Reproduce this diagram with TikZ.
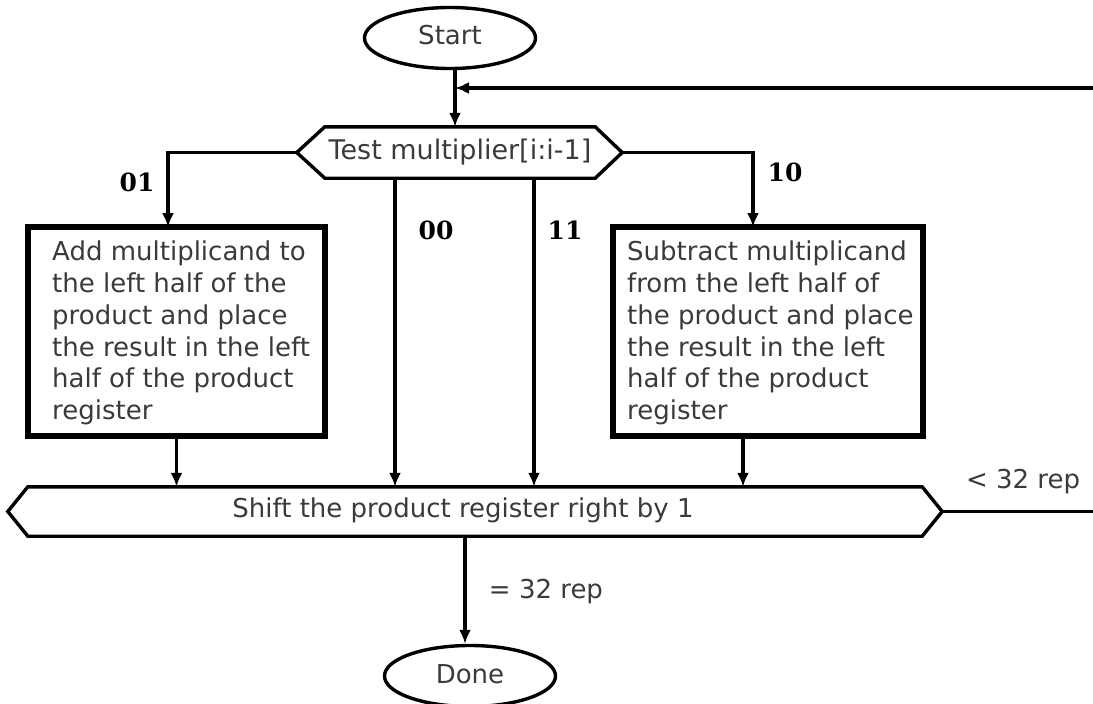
\documentclass[tikz,border=0pt]{standalone}
\usepackage{fontspec}
\setmainfont{DejaVu Sans}
\newfontfamily\labfont{DejaVu Serif}
\usetikzlibrary{arrows.meta,shapes.geometric}
\definecolor{txt}{RGB}{58,58,58}
\begin{document}
\begin{tikzpicture}[x=1pt,y=-1pt,
  conn/.style={line width=3.4pt,line join=miter},
  arr/.style={conn,-{Latex[length=14pt,width=12pt]}},
  thickbox/.style={draw,line width=6pt,minimum width=297pt,minimum height=209pt,inner sep=0pt},
  oval/.style={draw,ellipse,line width=3.4pt,minimum width=171pt,minimum height=61pt,inner sep=0pt,text=txt,font=\fontsize{26}{30}\selectfont},
  body/.style={text=txt,font=\fontsize{26}{31.7}\selectfont,align=left,inner sep=0pt,anchor=north west},
  bits/.style={font=\labfont\bfseries\fontsize{25}{30}\selectfont,inner sep=0pt},
  note/.style={text=txt,font=\fontsize{26}{30}\selectfont,inner sep=0pt}]
\useasboundingbox (0,0) rectangle (1093,704);

% terminals
\node[oval] (start) at (450,38) {\raisebox{6pt}{Start}};
\node[oval] (done) at (470,676) {\raisebox{4pt}{Done}};

% decision hexagon
\node[minimum width=325pt,minimum height=51pt,inner sep=0pt] (test) at (459.5,152.5) {};
\draw[conn] (test.west) -- ([xshift=28pt]test.north west) -- ([xshift=-27pt]test.north east)
  -- (test.east) -- ([xshift=-27pt]test.south east) -- ([xshift=28pt]test.south west) -- cycle;
\node[text=txt,font=\fontsize{27}{30}\selectfont] at (460,152) {Test multiplier[i:i-1]};

% shift hexagon
\node[minimum width=934pt,minimum height=49pt,inner sep=0pt] (shift) at (475,511.5) {};
\draw[conn] (shift.west) -- ([xshift=20pt]shift.north west) -- ([xshift=-20pt]shift.north east)
  -- (shift.east) -- ([xshift=-20pt]shift.south east) -- ([xshift=20pt]shift.south west) -- cycle;
\node[text=txt,font=\fontsize{26}{30}\selectfont] at (463,510) {Shift the product register right by 1};

% action boxes
\node[thickbox] (add) at (176.5,331.5) {};
\node[body] at (52,241) {Add multiplicand to\\the left half of the\\product and place\\the result in the left\\half of the product\\register};
\node[thickbox,minimum width=310pt] (sub) at (768,331.5) {};
\node[body] at (627,241) {Subtract multiplicand\\from the left half of\\the product and place\\the result in the left\\half of the product\\register};

% connector end points
\coordinate (j) at (455,88);
\coordinate (far) at (1110,88);
\coordinate (addin) at (168,227);
\coordinate (subin) at (753,227);

\draw[conn] (start.south -| j) -- (j);
\draw[arr] (j) -- (test.north -| j);
\draw[arr] (shift.east) -- (far |- shift.east) -- (far) -- (j);

\draw[arr] (test.west) -| (addin);
\draw[arr] (test.east) -| (subin);
\draw[arr] (395,178) -- (395,487 |- shift.north);
\draw[arr] (534,178) -- (534,487 |- shift.north);
\draw[arr] (add.south) -- (add.south |- shift.north);
\draw[arr] (743,436) -- (743,487 |- shift.north);
\draw[arr] (465,536 |- shift.south) -- (465,0 |- done.north);

% branch labels
\node[bits] at (137,182) {01};
\node[bits] at (436,230) {00};
\node[bits] at (565,230) {11};
\node[bits] at (785,172) {10};
\node[note] at (1023,482) {< 32 rep};
\node[note] at (546,592) {= 32 rep};
\end{tikzpicture}
\end{document}
